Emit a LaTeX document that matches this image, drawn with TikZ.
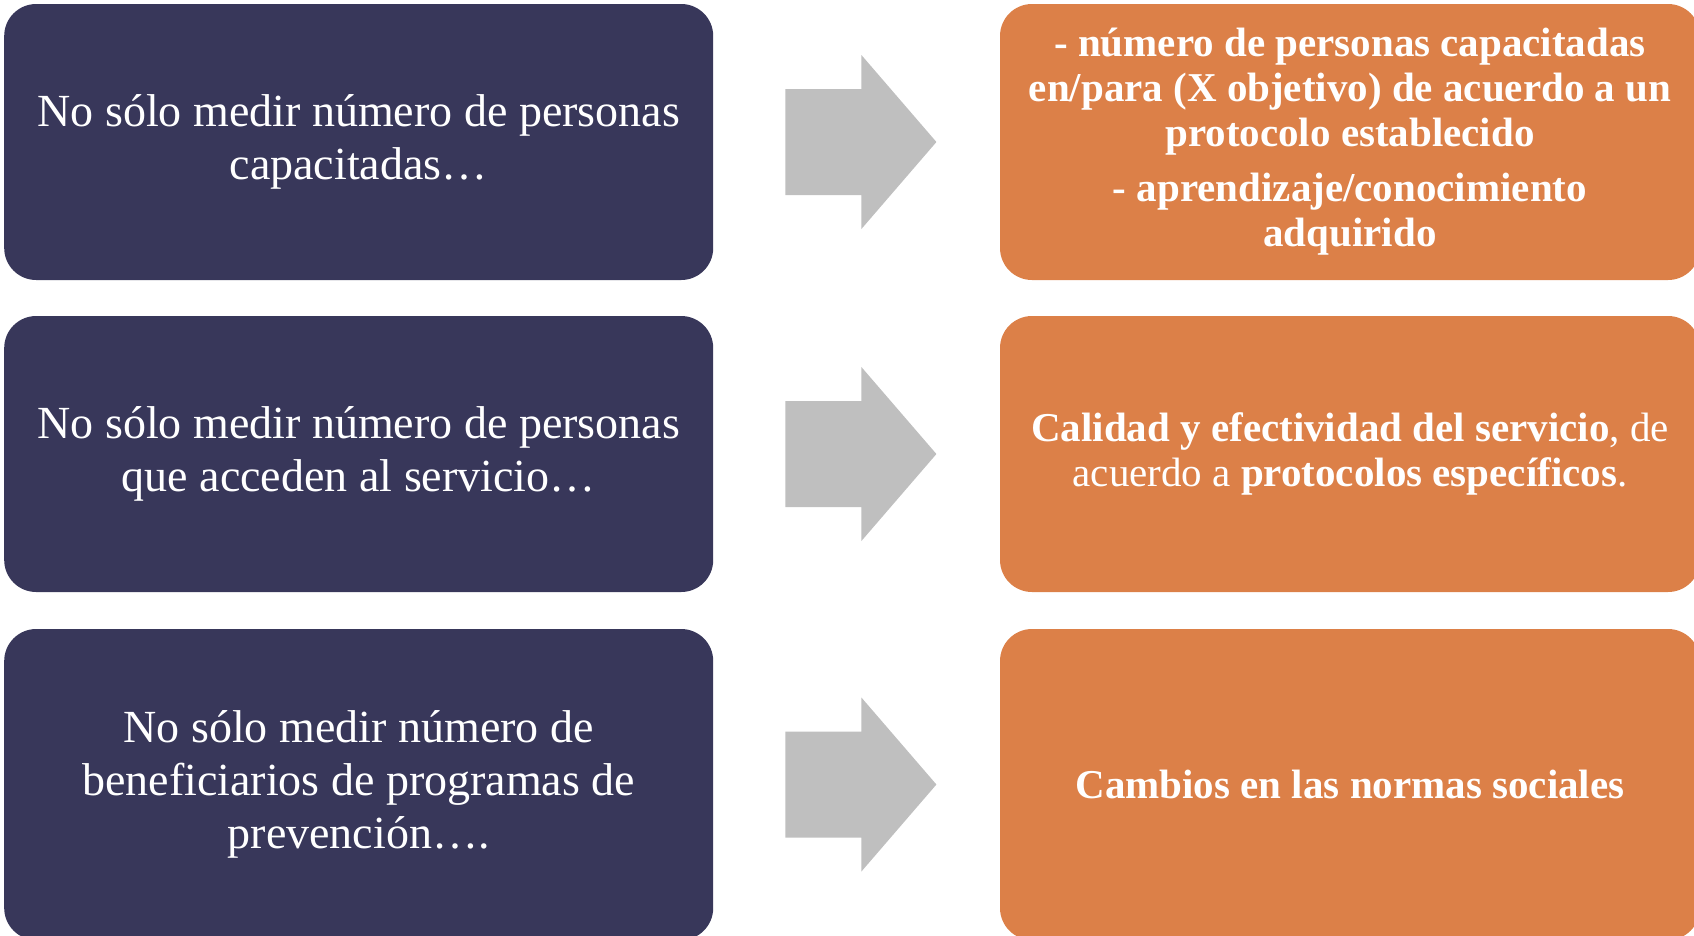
\documentclass[tikz,border=0pt]{standalone}
\usepackage{fontspec}
\setmainfont{Liberation Serif}
\usetikzlibrary{positioning}
\definecolor{navy}{RGB}{56,55,90}
\definecolor{ocre}{RGB}{220,128,72}
\definecolor{gris}{RGB}{191,191,191}
\tikzset{
  izq/.style={fill=navy, text=white, rounded corners=32pt, minimum width=709pt,
    align=center, font=\fontsize{46}{53}\selectfont},
  der/.style={fill=ocre, text=white, rounded corners=32pt, minimum width=700pt,
    align=center, font=\fontsize{41}{45}\selectfont},
  derb/.style={der, font=\fontsize{41}{45}\selectfont\bfseries},
  flecha/.style={fill=gris}
}
\begin{document}
\begin{tikzpicture}[x=1pt,y=-1pt]
  \useasboundingbox (0,0) rectangle (1694,935);
  \clip (0,0) rectangle (1694,935);
  \draw
    (358.7,142) node[izq, minimum height=276pt] (i1)
      {No sólo medir número de personas\\capacitadas…}
    (358.7,454) node[izq, minimum height=276pt] (i2)
      {No sólo medir número de personas\\que acceden al servicio…}
    (358.7,784.5) node[izq, minimum height=311pt] (i3)
      {No sólo medir número de\\beneficiarios de programas de\\prevención….}
    (1350,142) node[derb, minimum height=276pt] (d1)
      {- número de personas capacitadas\\en/para (X objetivo) de acuerdo a un\\protocolo establecido\\[10pt]- aprendizaje/conocimiento\\adquirido}
    (1350,454) node[der, minimum height=276pt] (d2)
      {\textbf{Calidad y efectividad del servicio}, de\\acuerdo a \textbf{protocolos específicos}.}
    (1350,784.5) node[derb, minimum height=311pt] (d3)
      {Cambios en las normas sociales};
  \foreach \n in {1,2,3}
    \fill[flecha] (i\n.east) ++(72,-53) -- ++(76,0) -- ++(0,-34) -- ++(75,87)
      -- ++(-75,87) -- ++(0,-34) -- ++(-76,0) -- cycle;
\end{tikzpicture}
\end{document}
